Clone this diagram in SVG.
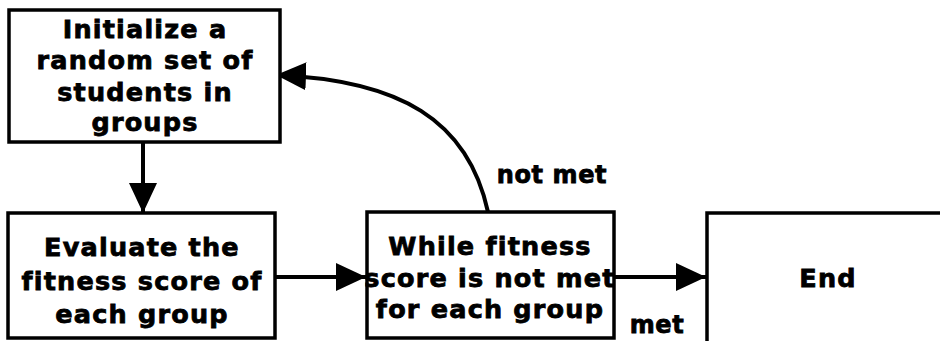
<svg xmlns="http://www.w3.org/2000/svg" width="940" height="341" viewBox="0 0 940 341">
<style>
.box{fill:#fff;stroke:#000;stroke-width:3.5}
.t{font-family:"DejaVu Sans",Verdana,sans-serif;font-weight:bold;font-size:25.5px;fill:#000;stroke:#000;stroke-width:0.8;text-anchor:middle;letter-spacing:1.2px}
.lbl{font-family:"DejaVu Sans",Verdana,sans-serif;font-weight:bold;font-size:24px;fill:#000;stroke:#000;stroke-width:0.8;text-anchor:middle;letter-spacing:0.6px}
.c{fill:none;stroke:#000;stroke-width:4;marker-end:url(#ah)}
</style>
<defs>
<marker id="ah" markerUnits="userSpaceOnUse" markerWidth="31" markerHeight="28" refX="30" refY="14" orient="auto">
<path d="M0,0 L30,14 L0,28 z" fill="#000"/>
</marker>
</defs>
<rect width="940" height="341" fill="#fff"/>
<g id="connectors">
<path class="c" d="M143,142 V213"/>
<path class="c" d="M275,277 H366"/>
<path class="c" d="M614,277 H706"/>
<path class="c" d="M488,212 C468,120 400,80 276,75"/>
</g>
<g id="init">
<rect class="box" x="9" y="10" width="271" height="132"/>
<text class="t" x="145" y="38">Initialize a</text>
<text class="t" x="145" y="69">random set of</text>
<text class="t" x="145" y="101">students in</text>
<text class="t" x="145" y="131">groups</text>
</g>
<g id="evaluate">
<rect class="box" x="8" y="213" width="267" height="125"/>
<text class="t" x="142" y="256">Evaluate the</text>
<text class="t" x="142" y="290">fitness score of</text>
<text class="t" x="142" y="323">each group</text>
</g>
<g id="while">
<rect class="box" x="367" y="212" width="247" height="126"/>
<text class="t" x="490" y="255">While fitness</text>
<text class="t" x="490" y="287">score is not met</text>
<text class="t" x="490" y="318">for each group</text>
</g>
<g id="end">
<rect class="box" x="707" y="213" width="300" height="200"/>
<text class="t" x="828" y="287">End</text>
</g>
<g id="labels">
<text class="lbl" x="552" y="183">not met</text>
<text class="lbl" x="657" y="333">met</text>
</g>
</svg>
